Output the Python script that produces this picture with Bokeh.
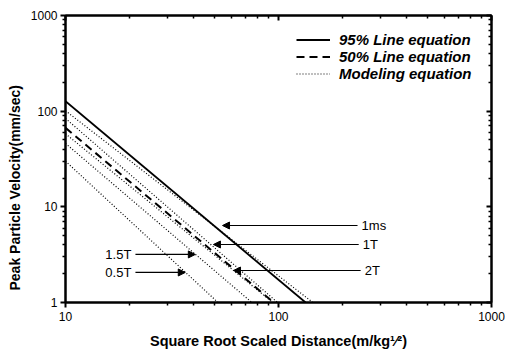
import numpy as np
from bokeh.plotting import figure
from bokeh.models import (Range1d, LogAxis, FixedTicker, Legend, LegendItem,
                          Arrow, NormalHead, Title, PrintfTickFormatter)
from bokeh.core.properties import value
from bokeh.embed import file_html
from bokeh.resources import INLINE

# ---- data ----
sd_95 = [10, 134]
ppv_95 = [127, 1]
sd_50 = [10, 95]
ppv_50 = [67, 1]

model_names = ["1ms", "1T", "2T", "1.5T", "0.5T"]
model_sd = [[10, 145], [10, 99], [10, 94], [10, 75], [10, 52]]
model_ppv = [[101, 1], [84, 1], [58, 1], [46, 1], [30, 1]]

ann_text = ["1ms", "1T", "2T", "1.5T", "0.5T"]
ann_y = [6.38, 4.04, 2.16, 3.18, 2.06]
ann_tip = [54.6, 49.5, 61.5, 40.7, 36.5]
ann_tail = [235, 238, 243, 21.3, 21.3]
ann_side = ["right", "right", "right", "left", "left"]

x_ticks = [10, 100, 1000]
y_ticks = [1, 10, 100, 1000]

FONT = "Liberation Sans"

p = figure(width=505, height=351, x_axis_type="log", y_axis_type="log",
           x_range=Range1d(10, 1000), y_range=Range1d(1, 1000),
           output_backend="svg", toolbar_location=None,
           min_border_left=65, min_border_right=14,
           min_border_top=15, min_border_bottom=49)
p.xgrid.visible = False
p.ygrid.visible = False
p.outline_line_color = "black"
p.outline_line_width = 2
p.background_fill_color = "white"
p.border_fill_color = "white"

x_minor = [m * 10.0 ** e for e in (1, 2) for m in range(2, 10)]
y_minor = [m * 10.0 ** e for e in (0, 1, 2) for m in range(2, 10)]

for ax in p.xaxis:
    ax.ticker = FixedTicker(ticks=x_ticks, minor_ticks=x_minor)
for ax in p.yaxis:
    ax.ticker = FixedTicker(ticks=y_ticks, minor_ticks=y_minor)

for ax in list(p.xaxis) + list(p.yaxis):
    ax.formatter = PrintfTickFormatter(format="%d")
    ax.axis_line_width = 2
    ax.major_tick_line_width = 2
    ax.minor_tick_line_width = 1.5
    ax.major_tick_out = 5
    ax.major_tick_in = 0
    ax.minor_tick_out = 3
    ax.minor_tick_in = 0
    ax.major_label_text_font = FONT
    ax.major_label_text_font_size = "12px"
    ax.major_label_text_color = "black"
    ax.axis_label_text_font = FONT
    ax.axis_label_text_font_size = "14.5px"
    ax.axis_label_text_font_style = "bold"
    ax.axis_label_text_color = "black"

p.xaxis.axis_label = "Square Root Scaled Distance(m/kg\u00b9\u2044\u00b2)"
p.xaxis.major_label_standoff = 4
p.xaxis.axis_label_standoff = 9
p.yaxis.major_label_standoff = 3

# y-axis title, starting a little above the frame bottom as in the reference
ytitle = Title(text="Peak Particle Velocity(mm/sec)", align="left", offset=12,
               text_font=FONT, text_font_size="14px", text_font_style="bold",
               text_color="black", standoff=9)
p.add_layout(ytitle, "left")

# mirror axes with inward ticks
top = LogAxis(ticker=FixedTicker(ticks=x_ticks, minor_ticks=x_minor))
right = LogAxis(ticker=FixedTicker(ticks=y_ticks, minor_ticks=y_minor))
for ax in (top, right):
    ax.axis_line_width = 2
    ax.major_tick_line_width = 2
    ax.minor_tick_line_width = 1.5
    ax.major_tick_in = 5
    ax.major_tick_out = 0
    ax.minor_tick_in = 3
    ax.minor_tick_out = 0
    ax.major_label_text_font_size = "1px"
    ax.major_label_text_alpha = 0
    ax.major_label_standoff = 0
p.add_layout(top, "above")
p.add_layout(right, "right")

# lines
r95 = p.line(sd_95, ppv_95, line_color="black", line_width=1.8)
r50 = p.line(sd_50, ppv_50, line_color="black", line_width=2, line_dash="8 5")
rmod = []
for xs, ys in zip(model_sd, model_ppv):
    rmod.append(p.line(xs, ys, line_color="black", line_width=1.2, line_dash="1 2"))

legend = Legend(items=[
    LegendItem(label="95% Line equation", renderers=[r95]),
    LegendItem(label="50% Line equation", renderers=[r50]),
    LegendItem(label="Modeling equation", renderers=[rmod[0]]),
], location=(231, 220))
legend.margin = 0
legend.padding = 0
legend.spacing = 0
legend.glyph_width = 34
legend.glyph_height = 17
legend.label_height = 17
legend.label_standoff = 9
legend.label_text_font = FONT
legend.label_text_font_style = "bold italic"
legend.label_text_font_size = "15px"
legend.label_text_color = "black"
legend.background_fill_alpha = 0
legend.border_line_alpha = 0
p.add_layout(legend)

# annotations
r_x, r_y, r_t, l_x, l_y, l_t = [], [], [], [], [], []
for t, y, tip, tail, side in zip(ann_text, ann_y, ann_tip, ann_tail, ann_side):
    p.add_layout(Arrow(end=NormalHead(size=7, fill_color="black", line_color="black"),
                       x_start=tail, y_start=y, x_end=tip, y_end=y,
                       line_color="black", line_width=1.2))
    if side == "right":
        r_x.append(tail * 1.045); r_y.append(y); r_t.append(t)
    else:
        l_x.append(tail / 1.045); l_y.append(y); l_t.append(t)

p.text(x=r_x, y=r_y, text=r_t, text_font=value(FONT), text_font_size="13px",
       text_align="left", text_baseline="middle", text_color="black")
p.text(x=l_x, y=l_y, text=l_t, text_font=value(FONT), text_font_size="13px",
       text_align="right", text_baseline="middle", text_color="black")

open("out.html", "w").write(file_html(p, INLINE))
